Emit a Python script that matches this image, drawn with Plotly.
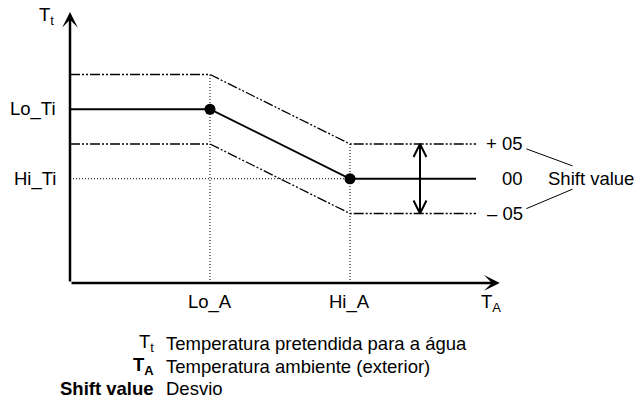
import plotly.graph_objects as go

# Heating curve: target water temperature T_t against ambient temperature T_A
ta_points = [0, 10, 20, 29]          # T_A break points: axis, Lo_A, Hi_A, end of curve
tt_target = [25, 25, 15, 15]         # T_t along the curve: Lo_Ti, Lo_Ti, Hi_Ti, Hi_Ti
shift = 5                            # shift value (band offset, "05")
x_tick_vals = [10, 20]
x_tick_text = ["Lo_A", "Hi_A"]
y_tick_vals = [25, 15]
y_tick_text = ["Lo_Ti", "Hi_Ti"]
shift_offsets = [5, 0, -5]
shift_text = ["+ 05", "00", "\u2013 05"]
arrow_x = 25                         # T_A position of the shift arrow
ta_axis_end = 30.7
tt_axis_end = 39

legend_keys = ["T<sub>t</sub>", "<b>T<sub>A</sub></b>", "<b>Shift value</b>"]
legend_desc = ["Temperatura pretendida para a \u00e1gua",
               "Temperatura ambiente (exterior)",
               "Desvio"]

FONT = "Liberation Sans, Arial, Helvetica, sans-serif"
FS = 18.5
BAND_DASH = "10px,2px,2px,2px,2px,2px"
DOT_DASH = "1px,2px"

fig = go.Figure()

lo_a, hi_a = ta_points[1], ta_points[2]
lo_ti, hi_ti = tt_target[0], tt_target[2]

# dotted guides
fig.add_trace(go.Scatter(x=[0, hi_a], y=[hi_ti, hi_ti], mode="lines",
                         line=dict(color="black", width=1, dash=DOT_DASH)))
fig.add_trace(go.Scatter(x=[lo_a, lo_a], y=[0, lo_ti + shift], mode="lines",
                         line=dict(color="black", width=1, dash=DOT_DASH)))
fig.add_trace(go.Scatter(x=[hi_a, hi_a], y=[0, hi_ti + shift], mode="lines",
                         line=dict(color="black", width=1, dash=DOT_DASH)))

# shifted curves (+/- shift)
for sgn in (1, -1):
    fig.add_trace(go.Scatter(x=ta_points, y=[v + sgn * shift for v in tt_target],
                             mode="lines",
                             line=dict(color="black", width=1.3, dash=BAND_DASH)))

# main curve
fig.add_trace(go.Scatter(x=ta_points, y=tt_target, mode="lines",
                         line=dict(color="black", width=1.8)))
fig.add_trace(go.Scatter(x=ta_points[1:3], y=tt_target[1:3], mode="markers",
                         marker=dict(color="black", size=11)))

# double-headed shift arrow with open heads
top, bot = hi_ti + shift, hi_ti - shift
hw, hl = 0.46, 1.87
fig.add_trace(go.Scatter(x=[arrow_x, arrow_x], y=[top, bot], mode="lines",
                         line=dict(color="black", width=2)))
fig.add_trace(go.Scatter(x=[arrow_x - hw, arrow_x, arrow_x + hw], y=[top - hl, top, top - hl],
                         mode="lines", line=dict(color="black", width=2)))
fig.add_trace(go.Scatter(x=[arrow_x - hw, arrow_x, arrow_x + hw], y=[bot + hl, bot, bot + hl],
                         mode="lines", line=dict(color="black", width=2)))

ann = []
# axes drawn as arrows
for hx, hy in ((ta_axis_end, 0), (0, tt_axis_end)):
    ann.append(dict(x=hx, y=hy, ax=0, ay=0, xref="x", yref="y", axref="x", ayref="y",
                    text="", showarrow=True, arrowhead=3, arrowwidth=2.5, arrowsize=1.05,
                    arrowcolor="black"))

# axis titles
ann.append(dict(x=0, y=tt_axis_end, text="T<sub>t</sub>", showarrow=False,
                xanchor="right", yanchor="middle", xshift=-14, yshift=-4))
ann.append(dict(x=ta_axis_end, y=0, text="T<sub>A</sub>", showarrow=False,
                xanchor="center", yanchor="top", xshift=-9, yshift=-6))

# tick-like labels
for v, t in zip(x_tick_vals, x_tick_text):
    ann.append(dict(x=v, y=0, text=t, showarrow=False, xanchor="center",
                    yanchor="top", yshift=-6))
for v, t in zip(y_tick_vals, y_tick_text):
    ann.append(dict(x=0, y=v, text=t, showarrow=False, xanchor="right",
                    yanchor="middle", xshift=-12))

# shift labels on the right
for off, t in zip(shift_offsets, shift_text):
    ann.append(dict(x=ta_points[-1], y=hi_ti + off, text=t, showarrow=False,
                    xanchor="right", yanchor="middle", xshift=49))
ann.append(dict(x=ta_points[-1], y=hi_ti, text="Shift value", showarrow=False,
                xanchor="left", yanchor="middle", xshift=70))

# legend rows
legend_y = [343, 366, 388]
for k, d, py in zip(legend_keys, legend_desc, legend_y):
    ann.append(dict(x=156 / 636, y=1 - py / 398, xref="paper", yref="paper", text=k,
                    showarrow=False, xanchor="right", yanchor="middle"))
    ann.append(dict(x=164 / 636, y=1 - py / 398, xref="paper", yref="paper", text=d,
                    showarrow=False, xanchor="left", yanchor="middle"))

# leader lines from the +/-05 labels to "Shift value"
x0, x1 = ta_points[-1] + 3.6, ta_points[-1] + 6.9
shapes = [
    dict(type="line", x0=x0, x1=x1, y0=hi_ti + shift * 0.86, y1=hi_ti + shift * 0.37,
         line=dict(color="black", width=1)),
    dict(type="line", x0=x0, x1=x1, y0=hi_ti - shift * 0.86, y1=hi_ti - shift * 0.3,
         line=dict(color="black", width=1)),
]

fig.update_layout(
    width=636, height=398, margin=dict(l=0, r=0, t=0, b=0),
    plot_bgcolor="white", paper_bgcolor="white", showlegend=False,
    font=dict(family=FONT, size=FS, color="black"),
    xaxis=dict(range=[-5, 40.43], visible=False, fixedrange=True),
    yaxis=dict(range=[-16.55, 40.72], visible=False, fixedrange=True),
    annotations=ann, shapes=shapes,
)

fig.write_html("out.html")
